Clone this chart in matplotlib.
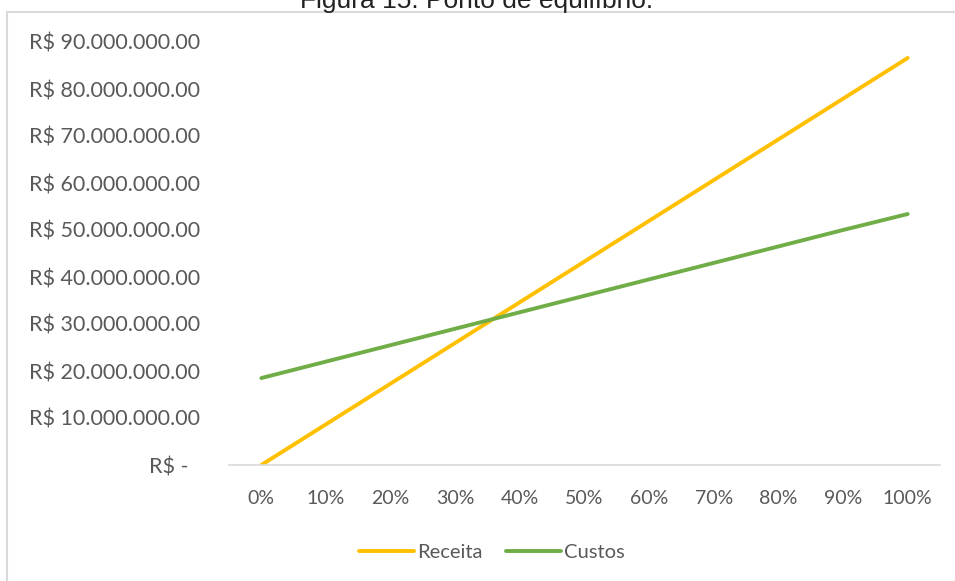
import matplotlib
matplotlib.use("Agg")
import matplotlib.pyplot as plt
from matplotlib.patches import Rectangle

# ── Data ──────────────────────────────────────────────────────────────────────
categorias = ["0%", "10%", "20%", "30%", "40%", "50%",
              "60%", "70%", "80%", "90%", "100%"]
receita = [0.0, 8.66e6, 17.32e6, 25.98e6, 34.64e6, 43.30e6,
           51.96e6, 60.62e6, 69.28e6, 77.94e6, 86.60e6]
custos = [18.5e6, 22.0e6, 25.5e6, 29.0e6, 32.5e6, 36.0e6,
          39.5e6, 43.0e6, 46.5e6, 50.0e6, 53.4e6]
y_ticks = [0, 10e6, 20e6, 30e6, 40e6, 50e6, 60e6, 70e6, 80e6, 90e6]
y_labels = ["R$ -  ", "R$ 10.000.000.00", "R$ 20.000.000.00", "R$ 30.000.000.00",
            "R$ 40.000.000.00", "R$ 50.000.000.00", "R$ 60.000.000.00",
            "R$ 70.000.000.00", "R$ 80.000.000.00", "R$ 90.000.000.00"]

# ── Style ─────────────────────────────────────────────────────────────────────
plt.rcParams['font.family'] = ['Lato', 'DejaVu Sans']
GRAY_TXT = '#595959'
ORANGE = '#FFC000'
GREEN = '#70AD47'

W, H = 955, 581
fig = plt.figure(figsize=(W / 100, H / 100), dpi=100)

# chart frame (continues past the right and bottom edges)
fig.patches.append(Rectangle((7 / W, -0.1), 1.2, 1 - 12 / H + 0.1,
                             transform=fig.transFigure, fill=False,
                             edgecolor='#D9D9D9', lw=1.5))

# caption sits above the frame, cropped by the image top as in the source
fig.text(477 / W, 1 - 8 / H, "Figura 15: Ponto de equilíbrio:",
         family='Liberation Sans', fontsize=19, color='#222222',
         ha='center', va='baseline')

ax = fig.add_axes([229 / W, 1 - 465 / H, (940 - 229) / W, (465 - 42) / H])
x = list(range(len(categorias)))
ax.plot(x, receita, color=ORANGE, lw=2.8, solid_capstyle='round', label='Receita')
ax.plot(x, custos, color=GREEN, lw=2.8, solid_capstyle='round', label='Custos')

ax.set_xlim(-0.5, len(categorias) - 0.5)
ax.set_ylim(0, 90e6)
ax.set_xticks(x)
ax.set_xticklabels(categorias)
ax.set_yticks(y_ticks)
ax.set_yticklabels(y_labels)
ax.tick_params(axis='both', length=0, labelcolor=GRAY_TXT)
ax.tick_params(axis='x', labelsize=14, pad=18)
ax.tick_params(axis='y', labelsize=15.5, pad=21)

for s in ('top', 'right', 'left'):
    ax.spines[s].set_visible(False)
ax.spines['bottom'].set_color('#D9D9D9')
ax.spines['bottom'].set_linewidth(1.2)
ax.set_facecolor('none')

fig.legend(loc='center', bbox_to_anchor=(492 / W, 1 - 552 / H), ncol=2,
           frameon=False, fontsize=14.5, labelcolor=GRAY_TXT,
           handlelength=2.7, handletextpad=0.15, columnspacing=1.2)

fig.savefig("out.png", dpi=100)
